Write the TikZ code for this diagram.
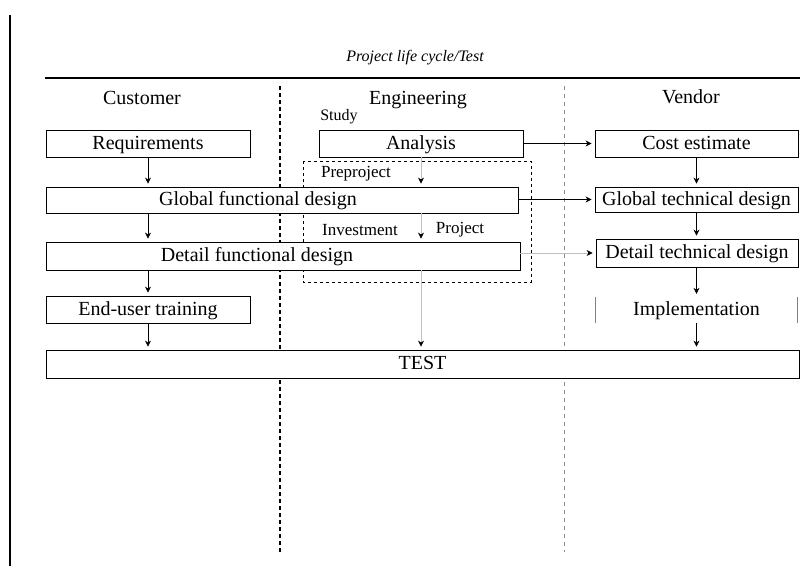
\documentclass[tikz,border=0pt]{standalone}
\usepackage{fontspec}
\setmainfont{Liberation Serif}
\usepackage{tikz}
\usetikzlibrary{arrows.meta,positioning}
\newcommand{\boxfont}{\fontsize{20}{23}\selectfont}
\newcommand{\smallfont}{\fontsize{17}{20}\selectfont}
\newcommand{\titlefont}{\fontsize{16}{19}\selectfont}

\begin{document}
\begin{tikzpicture}[
    x=1pt, y=-1pt,
    box/.style={rectangle,draw,fill=white,line width=0.8pt,inner sep=0pt,minimum height=27pt,
      text height=14pt,text depth=3pt,font=\boxfont},
    boxtext/.style={inner sep=0pt,text height=14pt,text depth=3pt,font=\boxfont},
    note/.style={inner sep=0pt,font=\smallfont},
    flow/.style={-{Stealth[length=6pt,width=6pt]},line width=0.7pt,shorten >=3pt},
    faint/.style={-{Stealth[length=6pt,width=6pt,color=black]},draw=black!25,line width=0.7pt,shorten >=3pt},
  ]
  \useasboundingbox (0,0) rectangle (812,566);

  % frame and lanes
  \draw[line width=2pt] (10,15) -- (10,566);
  \node[font=\titlefont\itshape] (title) at (415,58) {Project life cycle/Test};
  \draw[line width=1.6pt] (45,78) -- (800,78);
  \draw[line width=1.2pt,dash pattern=on 4pt off 3pt] (280,86) -- (280,552);
  \draw[black!45,line width=0.8pt,dash pattern=on 4pt off 4pt] (564,86) -- (564,552);
  \node[boxtext] (cust) at (142,99) {Customer};
  \node[boxtext] (eng)  at (418,99) {Engineering};
  \node[boxtext] (vend) at (691,98) {Vendor};

  % engineering phases
  \node[font=\titlefont] (study) at (339,117) {Study};
  \draw[line width=0.8pt,dashed] (303,161) rectangle (531,282);
  \node[note] (preproj) at (356,174) {Preproject};
  \node[note] (invest)  at (360,230) {Investment};
  \node[note] (proj)    at (460,230) {Project};

  % boxes
  \node[box,minimum width=204pt] (req)      at (148,143.5) {Requirements};
  \node[box,minimum width=204pt] (analysis) at (421,143.5) {Analysis};
  \node[box,minimum width=203pt] (cost)     at (696.5,143.5) {Cost estimate};
  \node[box,minimum width=472pt,minimum height=26pt] (gfd) at (282,200) {};
  \node[boxtext] (gfdtext) at ([xshift=-24pt]gfd.center) {Global functional design};
  \node[box,minimum width=203pt,minimum height=25pt] (gtd) at (696.5,199.5) {Global technical design};
  \node[box,minimum width=474pt,minimum height=28pt] (dfd) at (283,256) {};
  \node[boxtext] (dfdtext) at ([xshift=-26pt]dfd.center) {Detail functional design};
  \node[box,minimum width=202pt,minimum height=28pt] (dtd) at (697,253) {Detail technical design};
  \node[box,minimum width=204pt] (eut) at (148,309.5) {End-user training};
  \node[boxtext,minimum width=201pt,minimum height=26pt] (impl) at (696.5,310) {Implementation};
  \draw[black!50,line width=0.8pt] (impl.north west) -- (impl.south west);
  \draw[black!50,line width=0.8pt] (impl.north east) -- (impl.south east);
  \node[box,minimum width=753pt,minimum height=28pt] (test) at (422.5,364) {TEST};

  % customer lane
  \draw[flow] (req.south) -- (req.south |- gfd.north);
  \draw[flow] (req.south |- gfd.south) -- (req.south |- dfd.north);
  \draw[flow] (eut.north |- dfd.south) -- (eut.north);
  \draw[flow] (eut.south) -- (eut.south |- test.north);
  % engineering lane
  \draw[faint] (analysis.south) -- (analysis.south |- gfd.north);
  \draw[faint] (analysis.south |- gfd.south) -- (analysis.south |- dfd.north);
  \draw[faint] (analysis.south |- dfd.south) -- (analysis.south |- test.north);
  % to vendor
  \draw[flow] (analysis.east) -- (cost.west);
  \draw[flow] (gfd.east |- gtd.west) -- (gtd.west);
  \draw[faint] (dfd.east |- dtd.west) -- (dtd.west);
  % vendor lane
  \draw[flow] (cost.south) -- (gtd.north);
  \draw[flow] (gtd.south) -- (gtd.south |- dtd.north);
  \draw[flow] (gtd.south |- dtd.south) -- (gtd.south |- impl.north);
  \draw[flow] (gtd.south |- impl.south) -- (gtd.south |- test.north);
\end{tikzpicture}
\end{document}
